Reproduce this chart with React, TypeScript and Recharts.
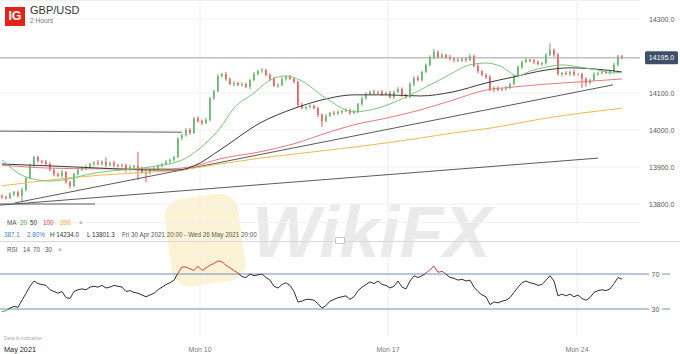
import React from 'react';
import { ComposedChart, LineChart, Line, Bar, XAxis, YAxis, CartesianGrid, ReferenceLine } from 'recharts';

const FONT = '"Liberation Sans", Arial, Helvetica, sans-serif';
const UP = '#2f9e3a';
const DOWN = '#e02a2f';
const LEVEL = '#6f8fb3';

const firstOpen = 13822;
const closes = [
  13819, 13816, 13827, 13832, 13822, 13838, 13870, 13905, 13927, 13916,
  13914, 13908, 13892, 13881, 13876, 13886, 13859, 13849, 13881, 13892,
  13897, 13900, 13908, 13911, 13908, 13914, 13905, 13911, 13905, 13903,
  13905, 13892, 13900, 13903, 13897, 13886, 13884, 13892, 13895, 13903,
  13908, 13914, 13919, 13927, 13978, 13986, 14000, 13992, 14032, 14024,
  14019, 14027, 14086, 14105, 14146, 14151, 14138, 14124, 14127, 14122,
  14124, 14116, 14135, 14151, 14159, 14162, 14149, 14138, 14119, 14122,
  14138, 14143, 14138, 14130, 14068, 14059, 14062, 14065, 14059, 14041,
  14024, 14038, 14046, 14044, 14049, 14051, 14054, 14046, 14049, 14070,
  14086, 14097, 14103, 14100, 14103, 14097, 14100, 14089, 14103, 14111,
  14095, 14089, 14124, 14141, 14135, 14157, 14176, 14197, 14211, 14197,
  14203, 14197, 14192, 14189, 14187, 14192, 14189, 14200, 14173, 14159,
  14149, 14143, 14108, 14114, 14108, 14111, 14114, 14124, 14146, 14170,
  14184, 14189, 14187, 14184, 14178, 14181, 14203, 14216, 14203, 14151,
  14154, 14151, 14157, 14149, 14151, 14138, 14127, 14135, 14151, 14154,
  14157, 14154, 14159, 14176, 14199, 14195,
];
const wickUp = [
  4, 3, 5, 3, 4, 6, 3, 4, 3, 4,
  3, 5, 4, 3, 4, 6, 3, 4, 3, 5,
  4, 6, 3, 5, 8, 4, 12, 4, 6, 3,
  5, 4, 6, 3, 38, 4, 6, 3, 5, 4,
  3, 5, 4, 3, 2, 4, 5, 6, 3, 5,
  4, 6, 3, 4, 5, 3, 6, 4, 5, 3,
  5, 4, 3, 6, 4, 5, 3, 4, 6, 4,
  5, 4, 6, 3, 4, 6, 3, 5, 4, 3,
  4, 5, 3, 6, 4, 3, 5, 4, 6, 3,
  4, 5, 4, 6, 3, 5, 4, 6, 3, 5,
  4, 3, 5, 4, 6, 3, 4, 5, 8, 4,
  5, 3, 6, 4, 5, 3, 4, 6, 4, 5,
  3, 4, 6, 4, 5, 3, 6, 4, 3, 5,
  4, 6, 3, 5, 4, 3, 5, 18, 4, 6,
  3, 5, 4, 6, 3, 4, 5, 3, 6, 4,
  5, 3, 4, 6, 5, 4,
];
const wickDown = [
  5, 4, 3, 6, 4, 17, 4, 3, 5, 4,
  5, 3, 4, 6, 3, 5, 4, 6, 3, 4,
  3, 5, 4, 6, 3, 4, 5, 3, 6, 4,
  4, 6, 3, 5, 32, 4, 25, 4, 3, 5,
  4, 3, 5, 4, 3, 6, 4, 5, 3, 4,
  6, 3, 4, 5, 3, 4, 5, 3, 6, 4,
  4, 3, 5, 4, 3, 5, 4, 6, 3, 5,
  4, 5, 3, 4, 6, 3, 5, 4, 3, 6,
  16, 4, 3, 5, 4, 6, 3, 5, 4, 3,
  5, 4, 3, 6, 4, 5, 3, 4, 6, 3,
  5, 4, 3, 6, 4, 5, 3, 4, 6, 4,
  3, 5, 4, 6, 3, 4, 5, 3, 4, 6,
  4, 5, 3, 6, 4, 3, 5, 4, 3, 4,
  5, 3, 4, 6, 3, 5, 4, 3, 5, 4,
  6, 3, 5, 4, 3, 24, 10, 4, 3, 5,
  4, 3, 5, 4, 3, 4,
];
const rsiValues = [
  27, 28, 31, 33, 32, 40, 48, 56, 62, 59,
  58, 57, 52, 50, 48, 50, 43, 42, 50, 52,
  53, 52, 55, 56, 55, 57, 54, 55, 57, 56,
  55, 50, 51, 49, 48, 46, 44, 46, 48, 52,
  55, 58, 60, 63, 71, 78, 78, 76, 74, 79,
  74, 77, 80, 82, 85, 84, 80, 77, 74, 71,
  67, 66, 70, 68, 69, 70, 66, 63, 56, 54,
  58, 60, 57, 50, 38, 39, 41, 41, 40, 36,
  31, 34, 39, 41, 43, 44, 45, 41, 44, 51,
  55, 58, 61, 59, 62, 58, 57, 54, 56, 62,
  55, 53, 62, 68, 66, 68, 71, 75, 79, 72,
  73, 70, 66, 65, 63, 64, 62, 63, 55, 50,
  46, 44, 35, 38, 37, 39, 40, 43, 49, 55,
  60, 62, 60, 59, 57, 58, 63, 68, 62, 45,
  47, 45, 47, 44, 46, 42, 40, 43, 49, 51,
  52, 51, 53, 59, 66, 64,
];

// moving averages: [candle index, value]
const ma20 = [
  [0, 13919], [6, 13873], [12, 13862], [24.5, 13886], [37, 13900], [45, 13919],
  [49.5, 13951], [54.5, 14005], [58, 14059], [63, 14100], [67, 14135], [71, 14146],
  [74.5, 14135], [81, 14086], [88, 14049], [92, 14054], [100, 14084], [104.5, 14108],
  [110.75, 14143], [117, 14176], [121, 14181], [124.5, 14173], [129, 14146], [132, 14159],
  [136, 14170], [140, 14176], [144.5, 14170], [149, 14162], [153, 14154], [155, 14157],
];
const ma50 = [
  [0, 13908], [12, 13903], [24.5, 13897], [37, 13892], [44, 13892], [48, 13903],
  [54.5, 13946], [64.5, 14019], [73.25, 14059], [81, 14084], [88, 14095], [96, 14095],
  [104.5, 14092], [112.75, 14103], [121, 14127], [127.75, 14143], [136, 14162],
  [142, 14168], [148, 14165], [155, 14157],
];
const ma100 = [
  [0, 13905], [12, 13897], [24.5, 13895], [42, 13895], [48.25, 13903], [54.5, 13922],
  [64.5, 13941], [72.75, 13962], [82, 13995], [88, 14014], [96, 14032], [104.5, 14054],
  [112.75, 14081], [121, 14108], [127.75, 14116], [136, 14124], [144.5, 14130], [155, 14138],
];
const ma200 = [
  [0, 13849], [16.25, 13870], [32.75, 13884], [42, 13889], [54.5, 13908], [64.5, 13924],
  [82, 13946], [96, 13965], [104.5, 13978], [112.75, 13992], [122, 14005], [136, 14032],
  [155, 14059],
];
const trendLines = [
  [[-0.5, 13997], [45, 13994]],
  [[-0.5, 13797], [149, 13924]],
  [[-0.5, 13800], [23.25, 13800]],
  [[3.25, 13803], [152.75, 14122]],
];

const priceTicks = [13800, 13900, 14000, 14100, 14300];
const lastPrice = 14195;
const dayTicks = [49.5, 96.5, 143.75];
const dayLabels = ['Mon 10', 'Mon 17', 'Mon 24'];
const startLabel = 'May 2021';
const xDomain: [number, number] = [-0.5, 159.5];
const priceDomain: [number, number] = [13750, 14350];
const rsiLevels = [70, 30];

const candles = closes.map((c, i) => {
  const o = i === 0 ? firstOpen : closes[i - 1];
  const high = Math.max(o, c) + wickUp[i];
  const low = Math.min(o, c) - wickDown[i];
  return { i, open: o, close: c, high, low, range: [low, high], rsi: rsiValues[i] };
});
const toPts = (arr: number[][]) => arr.map(([i, v]) => ({ i, v }));

const Candle = (props: any) => {
  const { x, y, width, height, payload } = props;
  if (!payload || x == null) return null;
  const top = Math.min(y, y + height);
  const h = Math.abs(height);
  const { open, close, high, low } = payload;
  const pix = (v: number) => top + ((high - v) / (high - low)) * h;
  const color = close >= open ? UP : DOWN;
  const cx = x + width / 2;
  const bTop = pix(Math.max(open, close));
  const bBot = pix(Math.min(open, close));
  return (
    <g>
      <line x1={cx} x2={cx} y1={top} y2={top + h} stroke={color} strokeWidth={0.8} />
      <rect x={x} y={bTop} width={width} height={Math.max(1, bBot - bTop)} fill={color} />
    </g>
  );
};

const YTick = (props: any) => {
  const { y, payload } = props;
  return (
    <text x={649} y={y} dominantBaseline="central" fontSize={7} fill="#555" fontFamily={FONT}>
      {payload.value.toFixed(1)}
    </text>
  );
};

const PriceBadge = (props: any) => {
  const { x, y, width } = props.viewBox;
  const bx = x + width + 5;
  return (
    <g>
      <rect x={bx} y={y - 6.5} width={33} height={13} rx={1.5} fill="#3e4f66" />
      <text x={bx + 16.5} y={y} textAnchor="middle" dominantBaseline="central" fill="#fff" fontSize={7} fontFamily={FONT}>
        {lastPrice.toFixed(1)}
      </text>
    </g>
  );
};

const LevelLabel = (props: any) => {
  const { x, y, width } = props.viewBox;
  const r = x + width;
  return (
    <g>
      <line x1={r} x2={r + 9} y1={y} y2={y} stroke={LEVEL} strokeWidth={1} />
      <text x={r + 15.5} y={y} textAnchor="middle" dominantBaseline="central" fontSize={7} fill="#555" fontFamily={FONT}>
        {props.value}
      </text>
      <line x1={r + 22} x2={r + 30} y1={y} y2={y} stroke={LEVEL} strokeWidth={1} />
    </g>
  );
};

const XTick = (props: any) => {
  const { x, payload } = props;
  const v = payload.value;
  if (v === xDomain[0]) {
    return (
      <text x={x + 4} y={112} fontSize={7.3} fill="#222" fontFamily={FONT}>
        {startLabel}
      </text>
    );
  }
  const k = dayTicks.indexOf(v);
  return (
    <text x={x} y={112} textAnchor="middle" fontSize={6.9} fill="#777" fontFamily={FONT}>
      {dayLabels[k]}
    </text>
  );
};

const txt = (left: number, top: number, s: string, color: string, size = 6.3, extra: any = {}) => (
  <div
    key={s + left + top}
    style={{ position: 'absolute', left, top, fontSize: size, lineHeight: 1, color, whiteSpace: 'nowrap', fontFamily: FONT, ...extra }}
  >
    {s}
  </div>
);

const RSI_H = 114;
const RSI_TOP = 7.75;
const RSI_PLOT = 87.5;
const off70 = (RSI_TOP + ((100 - rsiLevels[0]) / 100) * RSI_PLOT) / RSI_H;
const off30 = (RSI_TOP + ((100 - rsiLevels[1]) / 100) * RSI_PLOT) / RSI_H;

export default function App() {
  return (
    <div style={{ position: 'absolute', left: 0, top: 0, width: 680, height: 354, background: '#fff', overflow: 'hidden', fontFamily: FONT }}>
      {/* watermark */}
      <div style={{ position: 'absolute', left: 168, top: 196, width: 74, height: 88, borderRadius: 18, background: '#f6dc8a', opacity: 0.35, transform: 'rotate(-8deg)' }} />
      <div style={{ position: 'absolute', left: 252, top: 196, fontSize: 72, fontWeight: 700, fontStyle: 'italic', color: '#000', opacity: 0.08, fontFamily: FONT, lineHeight: 1 }}>
        WikiFX
      </div>

      <div style={{ position: 'absolute', left: 0, top: 0 }}>
        <ComposedChart width={680} height={240} data={candles} margin={{ top: 0.5, right: 0, bottom: 17.5, left: 0 }}>
          <CartesianGrid vertical={false} stroke="#f0f0f0" />
          <XAxis type="number" dataKey="i" domain={xDomain} hide allowDataOverflow />
          <YAxis
            orientation="right"
            width={40}
            domain={priceDomain}
            ticks={priceTicks}
            tick={<YTick />}
            tickLine={false}
            axisLine={false}
            interval={0}
            allowDataOverflow
          />
          {dayTicks.map((t) => (
            <ReferenceLine key={t} x={t} stroke="#eeeeee" />
          ))}
          {trendLines.map((seg, k) => (
            <ReferenceLine
              key={'t' + k}
              segment={[{ x: seg[0][0], y: seg[0][1] }, { x: seg[1][0], y: seg[1][1] }]}
              stroke="#5a5a5a"
              strokeWidth={1}
              ifOverflow="visible"
            />
          ))}
          <Line data={toPts(ma200)} dataKey="v" type="monotone" stroke="#f2b84b" strokeWidth={1} dot={false} isAnimationActive={false} />
          <Line data={toPts(ma100)} dataKey="v" type="monotone" stroke="#e8787a" strokeWidth={1} dot={false} isAnimationActive={false} />
          <Line data={toPts(ma50)} dataKey="v" type="monotone" stroke="#3a3a3a" strokeWidth={1} dot={false} isAnimationActive={false} />
          <Line data={toPts(ma20)} dataKey="v" type="monotone" stroke="#7cc47c" strokeWidth={1} dot={false} isAnimationActive={false} />
          <ReferenceLine y={lastPrice} stroke="#a0a0a0" strokeWidth={1} label={<PriceBadge />} />
          <Bar dataKey="range" barSize={3} shape={<Candle />} isAnimationActive={false} />
        </ComposedChart>
      </div>

      {/* header */}
      <div style={{ position: 'absolute', left: 5, top: 7, width: 20, height: 19, background: '#e2231a', color: '#fff', fontWeight: 700, fontSize: 12.5, lineHeight: '19px', textAlign: 'center', fontFamily: FONT }}>
        IG
      </div>
      {txt(30, 5, 'GBP/USD', '#333', 11)}
      {txt(30, 18, '2 Hours', '#777', 6.6)}

      {/* legend */}
      {txt(7, 220, 'MA', '#555')}
      {txt(20, 220, '20', '#3fa04a')}
      {txt(30, 220, '50', '#333')}
      {txt(43, 220, '100', '#e0393e')}
      {txt(60, 220, '200', '#f0a020')}
      {txt(79, 220, '×', '#888')}
      {txt(4, 232, '387.1', '#3b82c4')}
      {txt(27, 232, '2.80%', '#3b82c4')}
      {txt(50, 232, 'H 14234.0', '#333')}
      {txt(87, 232, 'L 13801.3', '#333')}
      {txt(122, 232, 'Fri 30 Apr 2021 20:00 - Wed 26 May 2021 20:00', '#555')}
      <div style={{ position: 'absolute', left: 0, top: 241, width: 680, height: 1, background: '#d8d8d8' }} />
      <div style={{ position: 'absolute', left: 335, top: 237, width: 10, height: 7, border: '1px solid #c8c8c8', background: '#fff', boxSizing: 'border-box' }} />
      {txt(7, 247, 'RSI', '#555')}
      {txt(23, 247, '14', '#555')}
      {txt(33, 247, '70', '#555')}
      {txt(45, 247, '30', '#555')}
      {txt(58, 247, '×', '#888')}
      {txt(4, 336, 'Data is indicative', '#aaa', 5)}

      <div style={{ position: 'absolute', left: 0, top: 240 }}>
        <LineChart width={680} height={RSI_H} data={candles} margin={{ top: RSI_TOP, right: 40, bottom: 0, left: 0 }}>
          <defs>
            <linearGradient id="rsiStroke" gradientUnits="userSpaceOnUse" x1="0" y1="0" x2="0" y2={RSI_H}>
              <stop offset={off70} stopColor="#e0393e" />
              <stop offset={off70} stopColor="#2e2e2e" />
              <stop offset={off30} stopColor="#2e2e2e" />
              <stop offset={off30} stopColor="#4caf50" />
            </linearGradient>
          </defs>
          <XAxis
            type="number"
            dataKey="i"
            domain={xDomain}
            ticks={[xDomain[0], ...dayTicks]}
            interval={0}
            tick={<XTick />}
            tickLine={false}
            axisLine={false}
            height={18.75}
            allowDataOverflow
          />
          <YAxis hide domain={[0, 100]} />
          {dayTicks.map((t) => (
            <ReferenceLine key={t} x={t} stroke="#eeeeee" />
          ))}
          {rsiLevels.map((lv) => (
            <ReferenceLine key={'l' + lv} y={lv} stroke={LEVEL} strokeWidth={1} label={<LevelLabel value={String(lv)} />} />
          ))}
          <Line dataKey="rsi" type="linear" stroke="url(#rsiStroke)" strokeWidth={1} dot={false} isAnimationActive={false} />
        </LineChart>
      </div>
    </div>
  );
}
